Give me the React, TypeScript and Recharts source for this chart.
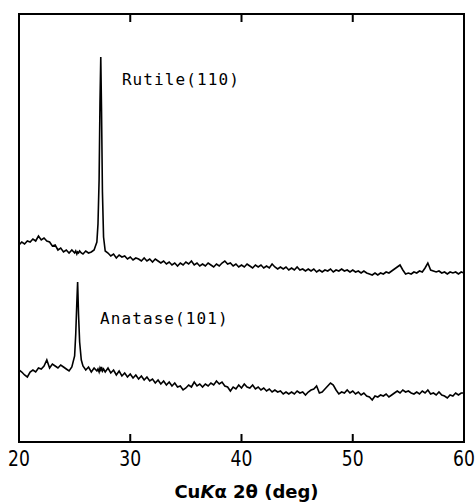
import React from 'react';
import { LineChart, Line, XAxis, YAxis, ReferenceDot, ReferenceArea } from 'recharts';

// 2θ positions (deg), with finer sampling at the two diffraction peaks
const twoTheta = [
  20.0, 20.25, 20.5, 20.75, 21.0, 21.25, 21.5, 21.75, 22.0, 22.25, 22.5, 22.75, 23.0, 23.25, 23.5, 23.75, 24.0, 24.25, 24.5, 24.75, 25.0,
  25.1, 25.2, 25.27, 25.35, 25.45, 25.6,
  25.75, 26.0, 26.25, 26.5, 26.75, 27.0,
  27.1, 27.2, 27.28, 27.35, 27.42, 27.5, 27.6,
  27.75, 28.0, 28.25, 28.5, 28.75, 29.0, 29.25, 29.5, 29.75, 30.0,
  30.25, 30.5, 30.75, 31.0, 31.25, 31.5, 31.75, 32.0, 32.25, 32.5,
  32.75, 33.0, 33.25, 33.5, 33.75, 34.0, 34.25, 34.5, 34.75, 35.0,
  35.25, 35.5, 35.75, 36.0, 36.25, 36.5, 36.75, 37.0, 37.25, 37.5,
  37.75, 38.0, 38.25, 38.5, 38.75, 39.0, 39.25, 39.5, 39.75, 40.0,
  40.25, 40.5, 40.75, 41.0, 41.25, 41.5, 41.75, 42.0, 42.25, 42.5,
  42.75, 43.0, 43.25, 43.5, 43.75, 44.0, 44.25, 44.5, 44.75, 45.0,
  45.25, 45.5, 45.75, 46.0, 46.25, 46.5, 46.75, 47.0, 47.25, 47.5,
  47.75, 48.0, 48.25, 48.5, 48.75, 49.0, 49.25, 49.5, 49.75, 50.0,
  50.25, 50.5, 50.75, 51.0, 51.25, 51.5, 51.75, 52.0, 52.25, 52.5,
  52.75, 53.0, 53.25, 53.5, 53.75, 54.0, 54.25, 54.5, 54.75, 55.0,
  55.25, 55.5, 55.75, 56.0, 56.25, 56.5, 56.75, 57.0, 57.25, 57.5,
  57.75, 58.0, 58.25, 58.5, 58.75, 59.0, 59.25, 59.5, 59.75, 60.0,
];

// Intensity (arbitrary units, offset traces)
const rutile = [
  197, 200, 198, 201, 200, 203, 201, 206, 202, 204, 201, 200, 196, 197, 192, 194, 190, 192, 189, 192, 189,
  191, 188, 190, 189, 191, 189,
  188, 191, 189, 190, 192, 200,
  218, 262, 340, 385, 330, 250, 205,
  191, 189, 186, 188, 184, 187, 185, 186, 183, 185,
  182, 184, 183, 181, 184, 181, 183, 180, 183, 181,
  179, 181, 178, 180, 177, 179, 176, 179, 177, 180,
  178, 181, 177, 179, 176, 178, 176, 179, 177, 175,
  178, 176, 179, 181, 178, 179, 176, 178, 175, 177,
  175, 178, 176, 174, 177, 175, 177, 174, 176, 174,
  178, 175, 173, 175, 173, 175, 172, 174, 172, 175,
  172, 173, 171, 173, 171, 173, 170, 172, 170, 172,
  171, 173, 170, 172, 171, 173, 171, 172, 170, 172,
  170, 171, 169, 171, 169, 168, 167, 169, 167, 169,
  168, 170, 169, 171, 173, 175, 177, 172, 168, 169,
  168, 170, 169, 171, 170, 174, 179, 172, 171, 170,
  171, 169, 170, 168, 170, 169, 170, 168, 170, 169,
];

const anatase = [
  72, 70, 67, 65, 70, 72, 70, 74, 73, 76, 82, 74, 78, 76, 74, 77, 75, 73, 71, 75, 86,
  108, 140, 160, 128, 100, 82,
  76, 72, 75, 70, 74, 71,
  73, 70, 74, 72, 75, 71, 73,
  70, 74, 69, 72, 67, 71, 66, 69, 65, 68,
  64, 67, 63, 66, 62, 65, 61, 63, 59, 62,
  58, 61, 57, 60, 56, 59, 55, 56, 52, 54,
  57, 55, 60, 56, 58, 55, 58, 56, 59, 57,
  61, 58, 60, 56, 55, 51, 55, 53, 57, 54,
  58, 55, 54, 57, 53, 55, 52, 54, 51, 53,
  50, 52, 50, 51, 48, 50, 48, 50, 48, 51,
  49, 50, 47, 50, 52, 53, 56, 49, 50, 53,
  56, 59, 57, 52, 48, 50, 49, 52, 49, 51,
  48, 50, 47, 49, 46, 45, 42, 46, 45, 47,
  46, 48, 45, 47, 49, 51, 49, 52, 50, 51,
  49, 48, 50, 48, 51, 49, 52, 48, 49, 47,
  50, 47, 46, 44, 47, 46, 49, 47, 49, 49,
];

const xTicks = [20, 30, 40, 50, 60];
const xDomain = [20, 60];
const yDomain = [0, 428];

const rutileLabel = 'Rutile(110)';
const rutileLabelAt = { x: 28.8, y: 363 };
const anataseLabel = 'Anatase(101)';
const anataseLabelAt = { x: 26.83, y: 124 };

const data = twoTheta.map((t, i) => ({ t, rutile: rutile[i], anatase: anatase[i] }));

const tickFont = '"DejaVu Sans", sans-serif';
const monoFont = '"DejaVu Sans Mono", "Liberation Mono", monospace';

function NarrowTick(props: any) {
  const { x, y, payload } = props;
  return (
    <g transform={`translate(${x},${y})`}>
      <text
        transform="scale(0.78,1)"
        textAnchor="middle"
        dy="0.72em"
        fontSize={22}
        fontFamily={tickFont}
        fill="#000"
      >
        {payload ? payload.value : ''}
      </text>
    </g>
  );
}

function AxisTitle(props: any) {
  const vb = props.viewBox || { x: 0, y: 0, width: 0, height: 0 };
  const cx = vb.x + vb.width / 2 + 5;
  const y = vb.y + 56;
  return (
    <text
      x={cx}
      y={y}
      textAnchor="middle"
      fontFamily='"DejaVu Sans", Roboto, sans-serif'
      fontSize={18}
      fontWeight="bold"
      fill="#000"
    >
      Cu<tspan fontStyle="italic">K</tspan>α 2θ (deg)
    </text>
  );
}

function PeakLabel(props: any) {
  const vb = props.viewBox || { x: 0, y: 0, width: 0, height: 0 };
  return (
    <text
      x={vb.x + 5}
      y={vb.y + vb.height / 2 + 6}
      fontFamily={monoFont}
      fontSize={16}
      letterSpacing={1.1}
      fill="#000"
    >
      {props.text}
    </text>
  );
}

export default function App() {
  return (
    <div>
      <style>{'body{margin:0}'}</style>
      <LineChart
        width={475}
        height={504}
        data={data}
        margin={{ top: 13, right: 10, left: 18, bottom: 2 }}
      >
        <ReferenceArea
          xAxisId="bottom"
          yAxisId="left"
          x1={xDomain[0]}
          x2={xDomain[1]}
          y1={yDomain[0]}
          y2={yDomain[1]}
          fill="none"
          fillOpacity={0}
          stroke="#000"
          strokeWidth={2}
          ifOverflow="visible"
        />
        <XAxis
          xAxisId="bottom"
          dataKey="t"
          type="number"
          domain={xDomain}
          ticks={xTicks}
          orientation="bottom"
          height={60}
          tickSize={-8}
          tickMargin={16}
          axisLine={{ stroke: '#000', strokeWidth: 2 }}
          tickLine={{ stroke: '#000', strokeWidth: 2 }}
          tick={<NarrowTick />}
          label={<AxisTitle />}
          allowDataOverflow
        />
        <XAxis
          xAxisId="top"
          dataKey="t"
          type="number"
          domain={xDomain}
          ticks={xTicks}
          orientation="top"
          height={1}
          tickSize={-8}
          axisLine={{ stroke: '#000', strokeWidth: 2 }}
          tickLine={{ stroke: '#000', strokeWidth: 2 }}
          tickFormatter={() => ''}
          allowDataOverflow
        />
        <YAxis
          yAxisId="left"
          type="number"
          domain={yDomain}
          width={1}
          tick={false}
          tickLine={false}
          axisLine={{ stroke: '#000', strokeWidth: 2 }}
          allowDataOverflow
        />
        <YAxis
          yAxisId="right"
          orientation="right"
          type="number"
          domain={yDomain}
          width={1}
          tick={false}
          tickLine={false}
          axisLine={{ stroke: '#000', strokeWidth: 2 }}
          allowDataOverflow
        />
        <Line
          xAxisId="bottom"
          yAxisId="left"
          type="linear"
          dataKey="rutile"
          stroke="#000"
          strokeWidth={1.6}
          dot={false}
          isAnimationActive={false}
        />
        <Line
          xAxisId="bottom"
          yAxisId="left"
          type="linear"
          dataKey="anatase"
          stroke="#000"
          strokeWidth={1.6}
          dot={false}
          isAnimationActive={false}
        />
        <ReferenceDot
          xAxisId="bottom"
          yAxisId="left"
          x={rutileLabelAt.x}
          y={rutileLabelAt.y}
          r={0}
          fill="none"
          stroke="none"
          label={<PeakLabel text={rutileLabel} />}
        />
        <ReferenceDot
          xAxisId="bottom"
          yAxisId="left"
          x={anataseLabelAt.x}
          y={anataseLabelAt.y}
          r={0}
          fill="none"
          stroke="none"
          label={<PeakLabel text={anataseLabel} />}
        />
      </LineChart>
    </div>
  );
}
